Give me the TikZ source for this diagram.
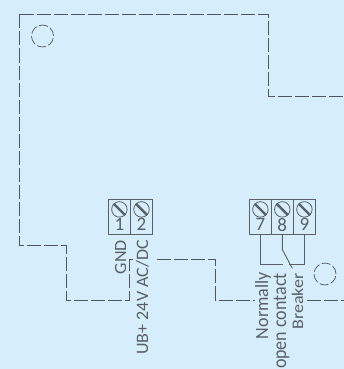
\documentclass[tikz,border=0pt]{standalone}
\usepackage{fontspec}
\setmainfont{Carlito}
\usepackage{tikz}
\definecolor{panelblue}{HTML}{D6EEFB}
\definecolor{inkgrey}{HTML}{5A6064}
\tikzstyle{outline}=[draw=inkgrey!90!black,line width=1pt,dash pattern=on 14pt off 3pt]
\tikzstyle{hole}=[draw=inkgrey!90!black,circle,line width=0.7pt,dash pattern=on 9pt off 2.5pt,minimum width=22pt,inner sep=0pt]
\tikzstyle{cell}=[draw=inkgrey,line width=1pt,minimum width=22pt,minimum height=34.5pt,inner sep=0pt]
\tikzstyle{digit}=[text=inkgrey,font=\fontsize{19}{19}\selectfont,inner sep=0pt]
\tikzstyle{screw}=[draw=inkgrey,circle,line width=0.8pt,minimum width=15.5pt,inner sep=0pt]
\tikzstyle{vlabel}=[text=inkgrey,font=\fontsize{18}{18}\selectfont,rotate=90,anchor=base east,inner sep=0pt]
\begin{document}
\begin{tikzpicture}[x=1pt,y=-1pt]
  \path[fill=panelblue,use as bounding box] (0,0) rectangle (344,369);
  % board outline
  \foreach \place/\name in {{(19.5,14.5)/o1},{(268,14.5)/o2},{(268,96)/o3},{(344,96)/o4},
                            {(19.5,245.5)/o5},{(66.5,245.5)/o6},{(66.5,300)/o7},{(129.5,300)/o8},{(129.5,259.5)/o9},{(133.5,259.5)/o16},
                            {(157,259.5)/o10},{(215.5,259.5)/o11},{(215.5,300)/o12},{(255,300)/o13},
                            {(307,300)/o14},{(344,300)/o15}}
    \node[coordinate] (\name) at \place {};
  \draw[outline] (o1) -- (o2) -- (o3) -- (o4);
  \draw[outline] (o1) -- (o5) -- (o6) -- (o7) -- (o8) -- (o9) -- (o16);
  \draw[outline] (o10) -- (o11) -- (o12) -- (o13);
  \draw[outline] (o14) -- (o15);
  \node[hole] (holea) at (42.5,36) {};
  \node[hole] (holeb) at (325,274) {};
  % terminals
  \foreach \xpos/\name in {119.4/1,141.5/2,260.4/7,282.3/8,304.4/9}{
    \node[cell] (c\name) at (\xpos,216.8) {};
    \node[screw] (s\name) at (\xpos,209.4) {};
    \draw[inkgrey,line width=2.4pt] (s\name.north west) -- (s\name.south east);
    \node[digit] (d\name) at (\xpos,224.8) {\name};
  }
  % contact wiring
  \coordinate (w7) at (260.4,264);
  \coordinate (w8) at (282.3,249.5);
  \coordinate (w8e) at (292.3,268.3);
  \coordinate (w9) at (304.4,264);
  \coordinate (w7e) at (283,264);
  \coordinate (w9e) at (289.3,264);
  \draw[inkgrey,line width=0.9pt] (c7.south) -- (w7) -- (w7e);
  \draw[inkgrey,line width=0.9pt] (c8.south) -- (w8) -- (w8e);
  \draw[inkgrey,line width=0.9pt] (c9.south) -- (w9) -- (w9e);
  % labels
  \node[vlabel,yscale=0.95] (gnd) at (126,240) {GND};
  \node[vlabel,yscale=0.97] (ub) at (148,240) {UB+ 24V AC/DC};
  \node[vlabel,yscale=1.04] (no) at (268,272) {Normally};
  \node[vlabel,yscale=1.1] (oc) at (286,273) {open contact};
  \node[vlabel,yscale=0.9] (br) at (303,273) {Breaker};
\end{tikzpicture}
\end{document}
